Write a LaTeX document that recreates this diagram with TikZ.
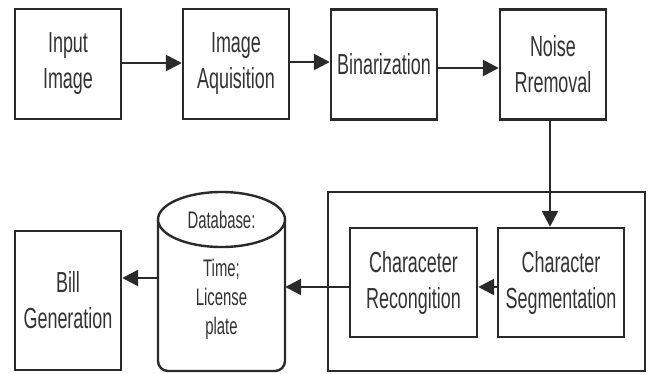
\documentclass[tikz,border=0pt]{standalone}
\usepackage{fontspec}
\setmainfont[FakeStretch=0.62]{Liberation Sans}
\usetikzlibrary{arrows.meta}
\definecolor{ln}{HTML}{2A2A2A}
\definecolor{tx}{HTML}{333333}
\begin{document}
\begin{tikzpicture}[x=1pt,y=-1pt,
  blk/.style={draw=ln, line width=2.4pt, minimum width=106pt, minimum height=110pt, align=center, text=tx, font=\fontsize{29}{36}\selectfont, inner sep=0pt},
  arr/.style={draw=ln, line width=2.6pt, -{Triangle[length=16pt,width=16pt]}},
  lnk/.style={draw=ln, line width=2.4pt}]
\useasboundingbox (0,0) rectangle (649,373);
% top row
\node[blk] (in)    at (68,64)    {Input\\Image};
\node[blk] (acq)   at (236,64)   {Image\\Aquisition};
\node[blk] (bin)   at (384,64.5) {Binarization};
\node[blk] (noise) at (553,64.5) {Noise\\Rremoval};
% bottom row
\node[draw=ln, line width=2.4pt, minimum width=317pt, minimum height=179pt, inner sep=0pt] (outer) at (486.5,281.5) {};
\node[blk, minimum width=127pt, minimum height=109pt] (rec) at (413.5,282.5) {Characeter\\Recongition};
\node[blk, minimum width=126pt, minimum height=109pt] (seg) at (561,282.5) {Character\\Segmentation};
\node[blk, minimum height=139pt] (bill) at (68,300.5) {Bill\\Generation};
% database cylinder
\node[minimum width=127pt, minimum height=179pt, inner sep=0pt] (db) at (221.5,281.5) {};
\draw[lnk, rounded corners=10pt] (158,219.5) -- (158,371) -- (285,371) -- (285,219.5);
\draw[lnk, fill=white] (221.5,219.5) ellipse [x radius=63.5pt, y radius=27.5pt];
\node[text=tx, font=\fontsize{24}{29}\selectfont] (dbt) at (221.5,220) {Database:};
\node[text=tx, font=\fontsize{24}{29}\selectfont, align=center] (dbc) at (221.5,299) {Time;\\License\\plate};
% connectors
\draw[arr] (in.east |- 0,63) -- (acq.west |- 0,63);
\draw[arr] (acq.east |- 0,62) -- (bin.west |- 0,62);
\draw[arr] (bin.east |- 0,68) -- (noise.west |- 0,68);
\draw[arr] (noise.south -| 550,0) -- (seg.north -| 550,0);
\draw[arr] (seg.west |- 0,287) -- (rec.east |- 0,287);
\draw[arr] (rec.west |- 0,287) -- (db.east |- 0,287);
\draw[arr] (db.west |- 0,278) -- (bill.east |- 0,278);
\end{tikzpicture}
\end{document}
